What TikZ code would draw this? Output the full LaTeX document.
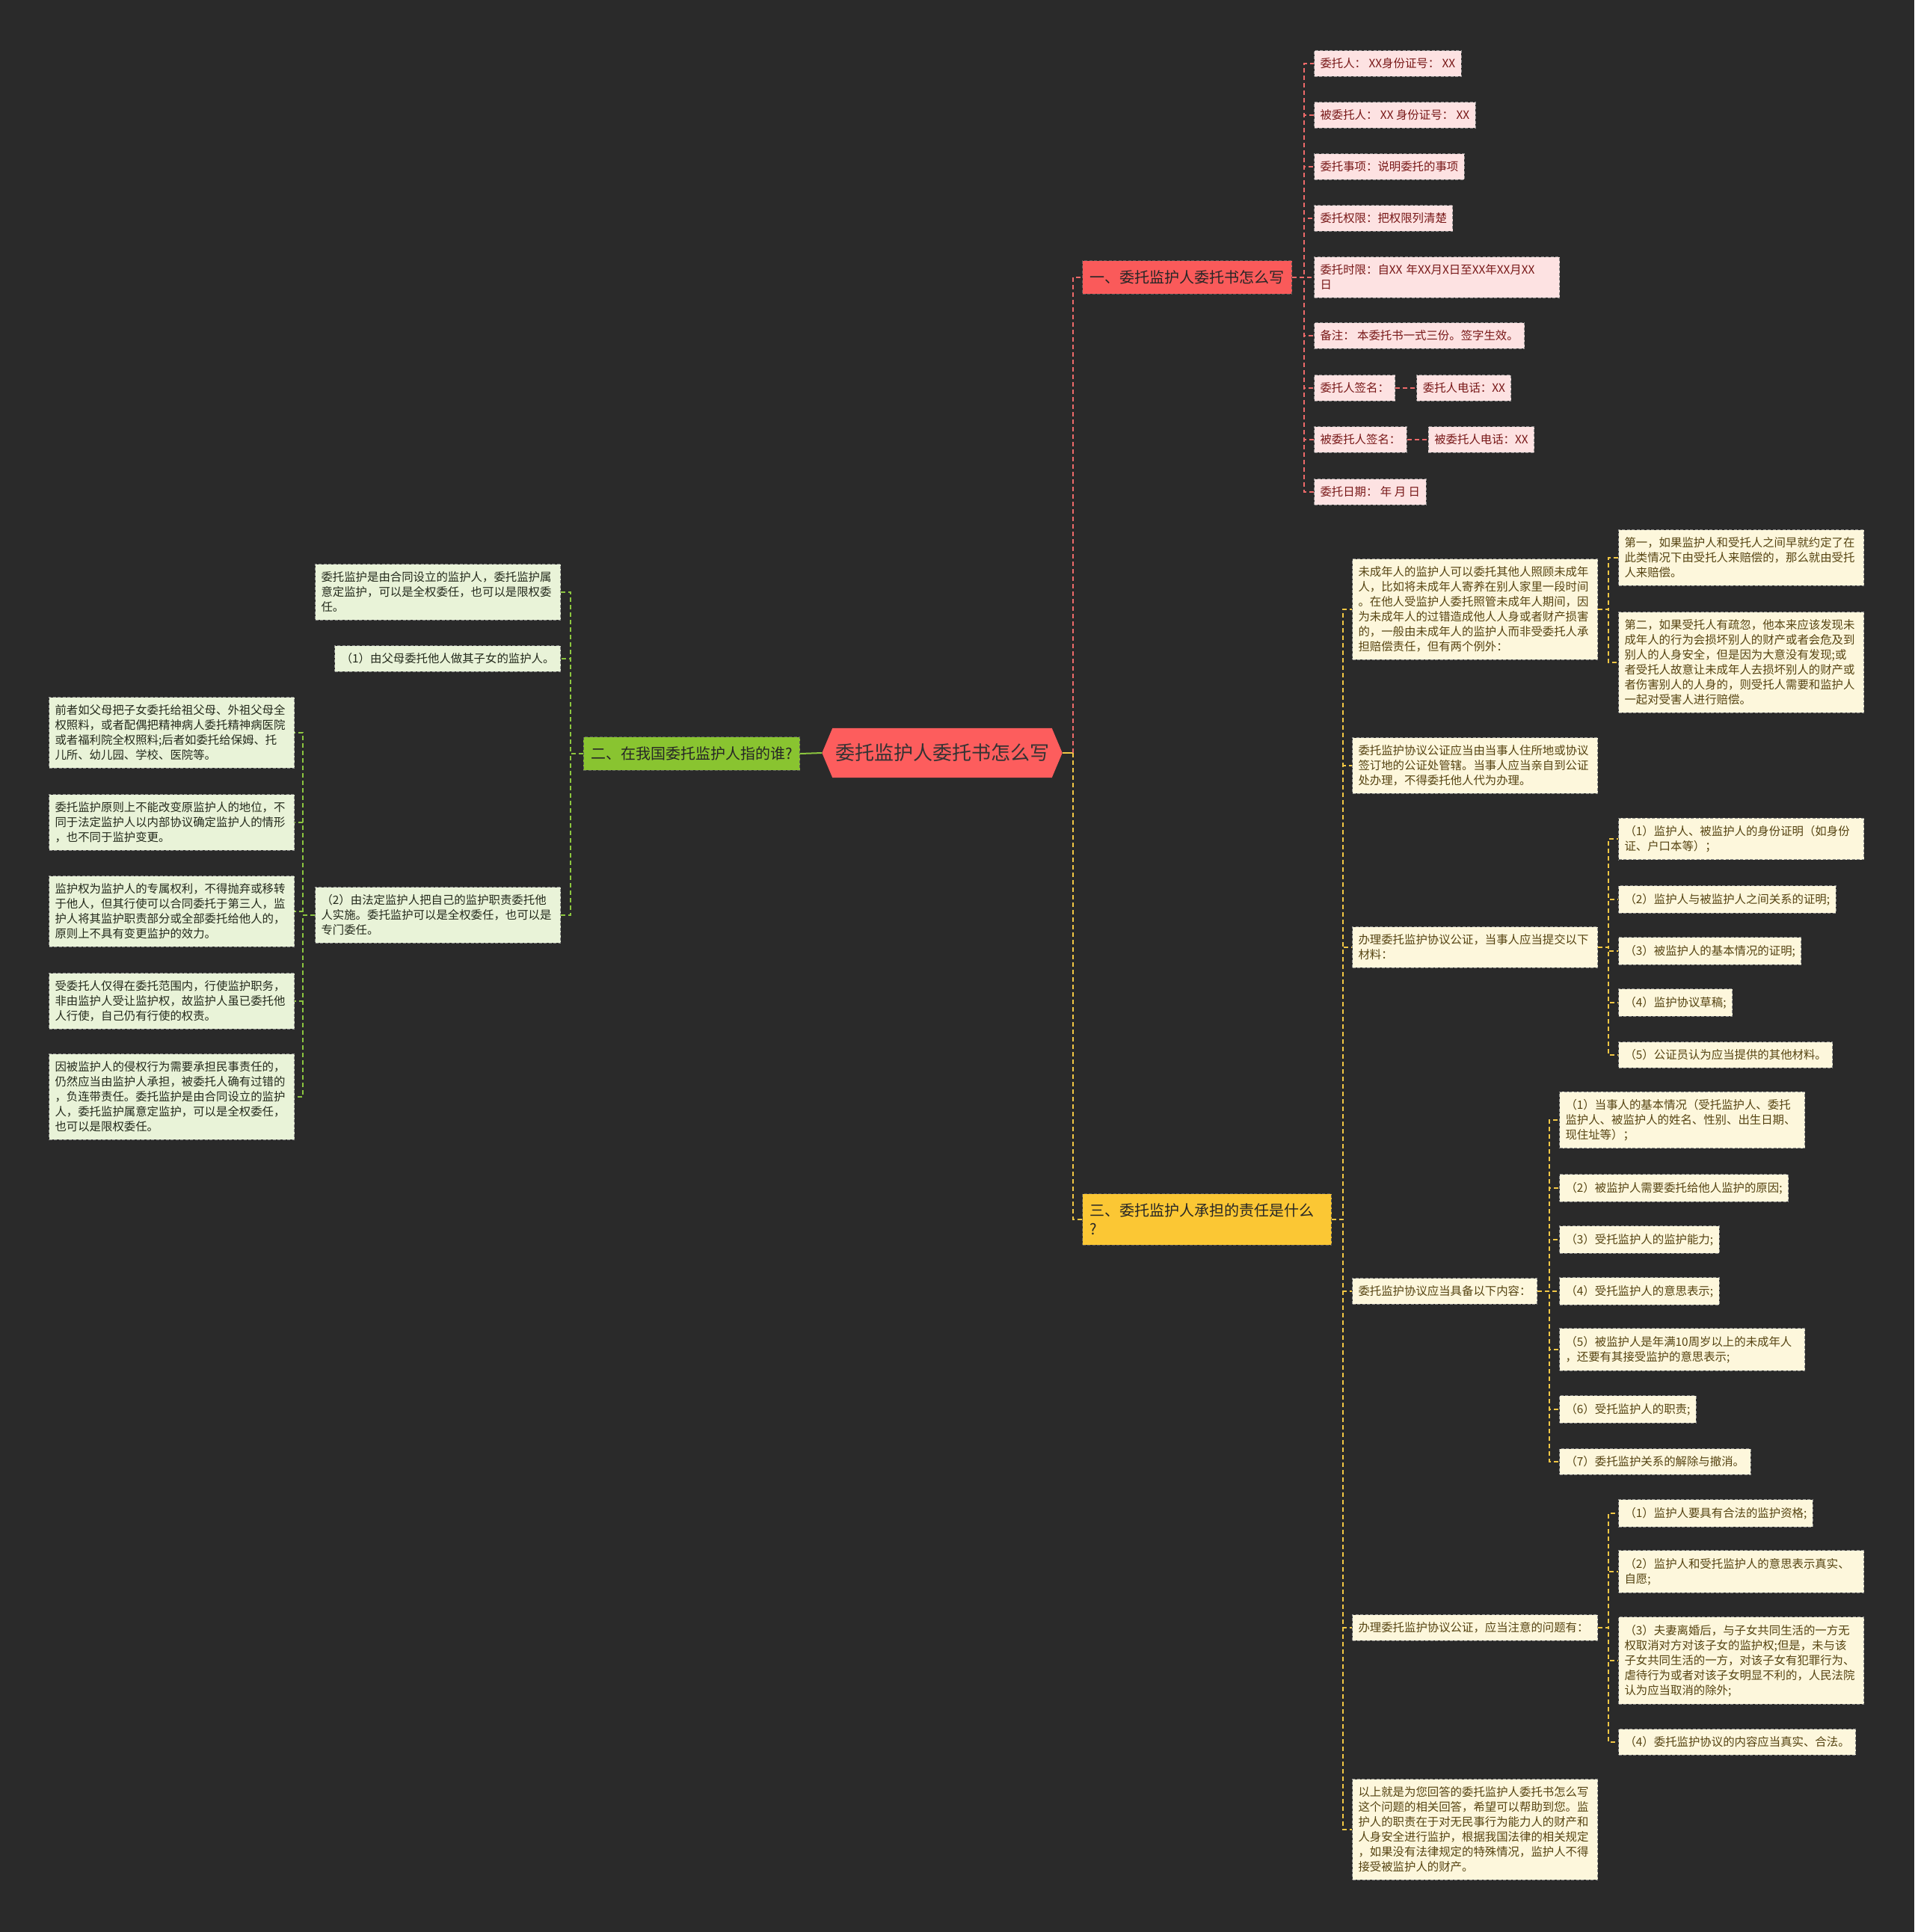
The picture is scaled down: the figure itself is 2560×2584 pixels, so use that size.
\documentclass[tikz,border=0pt]{standalone}
\usepackage{fontspec}
\setmainfont{Noto Sans CJK SC}
\usetikzlibrary{positioning, backgrounds, calc}

\definecolor{bgdark}{RGB}{42,42,42}
\definecolor{rootcol}{RGB}{253,93,93}
\definecolor{headred}{RGB}{250,90,90}
\definecolor{headgreen}{RGB}{137,196,48}
\definecolor{headyellow}{RGB}{251,199,52}
\definecolor{leafpink}{RGB}{253,226,226}
\definecolor{leafgreen}{RGB}{233,243,216}
\definecolor{leafyellow}{RGB}{253,247,220}
\definecolor{inkred}{RGB}{120,24,24}
\definecolor{inkgreen}{RGB}{36,42,28}
\definecolor{inkyellow}{RGB}{86,68,18}
\definecolor{linkred}{RGB}{238,106,106}
\definecolor{linkgreen}{RGB}{140,198,63}
\definecolor{linkyellow}{RGB}{242,199,68}

\tikzstyle{rootnode} = [minimum width=321pt, minimum height=66pt, inner sep=0pt,
    text=black!80, font=\fontsize{26}{32}\selectfont]
\tikzstyle{head} = [draw=black!65, dash pattern=on 4pt off 2.5pt, line width=1pt,
    inner xsep=10pt, inner ysep=13pt, text=black!85, font=\fontsize{20}{25}\selectfont, align=left]
\tikzstyle{leaf} = [draw=black!45, dash pattern=on 4pt off 2.5pt, line width=1pt,
    inner xsep=8pt, inner ysep=10pt, font=\fontsize{15.4}{20}\selectfont, align=left]
\tikzstyle{wide} = [text width=312pt]
\tikzstyle{pinkbox} = [leaf, fill=leafpink, text=inkred, anchor=west]
\tikzstyle{greenbox} = [leaf, fill=leafgreen, text=inkgreen, anchor=east]
\tikzstyle{yellowbox} = [leaf, fill=leafyellow, text=inkyellow, anchor=west]
\tikzstyle{redlink} = [draw=linkred, line width=2pt, dash pattern=on 6pt off 4pt]
\tikzstyle{greenlink} = [draw=linkgreen, line width=2pt, dash pattern=on 6pt off 4pt]
\tikzstyle{yellowlink} = [draw=linkyellow, line width=2pt, dash pattern=on 6pt off 4pt]

\begin{document}
\begin{tikzpicture}[x=1pt, y=-1pt]
    \begin{scope}[on background layer]
        \fill[bgdark] (0,0) rectangle (2560,2584);
    \end{scope}
    \useasboundingbox (0,0) rectangle (2560,2584);

    % Central topic
    \node [rootnode] (root) at (1260,1007) {委托监护人委托书怎么写};
    \begin{scope}[on background layer]
        \fill[rootcol] ([xshift=14pt]root.north west) -- ([xshift=-14pt]root.north east) -- (root.east)
            -- ([xshift=-14pt]root.south east) -- ([xshift=14pt]root.south west) -- (root.west) -- cycle;
    \end{scope}

    % Main branches
    \node [head, fill=headred, anchor=west] (b1) at (1447,371) {一、委托监护人委托书怎么写};
    \node [head, fill=headgreen, anchor=east] (b2) at (1070,1008) {二、在我国委托监护人指的谁?};
    \node [head, fill=headyellow, anchor=west, text width=313pt] (b3) at (1447,1631)
        {三、委托监护人承担的责任是什么\\?};

    % Branch one: the letter itself
    \node [pinkbox] (p1) at (1757,85) {委托人： XX身份证号： XX};
    \node [pinkbox] (p2) at (1757,154) {被委托人： XX 身份证号： XX};
    \node [pinkbox] (p3) at (1757,223) {委托事项：说明委托的事项};
    \node [pinkbox] (p4) at (1757,292) {委托权限：把权限列清楚};
    \node [pinkbox, wide] (p5) at (1757,371) {委托时限：自XX 年XX月X日至XX年XX月XX\\日};
    \node [pinkbox] (p6) at (1757,449) {备注： 本委托书一式三份。签字生效。};
    \node [pinkbox] (p7) at (1757,519) {委托人签名：};
    \node [pinkbox] (p8) at (1757,588) {被委托人签名：};
    \node [pinkbox] (p9) at (1757,658) {委托日期： 年 月 日};
    \node [pinkbox, right=28pt of p7] (t7) {委托人电话：XX};
    \node [pinkbox, right=28pt of p8] (t8) {被委托人电话：XX};

    % Branch two: who is the guardian
    \node [greenbox, wide] (g1) at (750,792) {委托监护是由合同设立的监护人，委托监护属\\意定监护，可以是全权委任，也可以是限权委\\任。};
    \node [greenbox] (g2) at (750,881) {（1）由父母委托他人做其子女的监护人。};
    \node [greenbox, wide] (g3) at (750,1224) {（2）由法定监护人把自己的监护职责委托他\\人实施。委托监护可以是全权委任，也可以是\\专门委任。};
    \node [greenbox, wide] (h1) at (394,980) {前者如父母把子女委托给祖父母、外祖父母全\\权照料，或者配偶把精神病人委托精神病医院\\或者福利院全权照料;后者如委托给保姆、托\\儿所、幼儿园、学校、医院等。};
    \node [greenbox, wide] (h2) at (394,1100) {委托监护原则上不能改变原监护人的地位，不\\同于法定监护人以内部协议确定监护人的情形\\，也不同于监护变更。};
    \node [greenbox, wide] (h3) at (394,1219) {监护权为监护人的专属权利，不得抛弃或移转\\于他人，但其行使可以合同委托于第三人，监\\护人将其监护职责部分或全部委托给他人的，\\原则上不具有变更监护的效力。};
    \node [greenbox, wide] (h4) at (394,1339) {受委托人仅得在委托范围内，行使监护职务，\\非由监护人受让监护权，故监护人虽已委托他\\人行使，自己仍有行使的权责。};
    \node [greenbox, wide] (h5) at (394,1467) {因被监护人的侵权行为需要承担民事责任的，\\仍然应当由监护人承担，被委托人确有过错的\\，负连带责任。委托监护是由合同设立的监护\\人，委托监护属意定监护，可以是全权委任，\\也可以是限权委任。};

    % Branch three: responsibilities
    \node [yellowbox, wide] (ya) at (1808,815) {未成年人的监护人可以委托其他人照顾未成年\\人，比如将未成年人寄养在别人家里一段时间\\。在他人受监护人委托照管未成年人期间，因\\为未成年人的过错造成他人人身或者财产损害\\的，一般由未成年人的监护人而非受委托人承\\担赔偿责任，但有两个例外：};
    \node [yellowbox, wide] (yb) at (1808,1024) {委托监护协议公证应当由当事人住所地或协议\\签订地的公证处管辖。当事人应当亲自到公证\\处办理，不得委托他人代为办理。};
    \node [yellowbox, wide] (yc) at (1808,1267) {办理委托监护协议公证，当事人应当提交以下\\材料：};
    \node [yellowbox] (yd) at (1808,1727) {委托监护协议应当具备以下内容：};
    \node [yellowbox, wide] (ye) at (1808,2177) {办理委托监护协议公证，应当注意的问题有：};
    \node [yellowbox, wide] (yf) at (1808,2447) {以上就是为您回答的委托监护人委托书怎么写\\这个问题的相关回答，希望可以帮助到您。监\\护人的职责在于对无民事行为能力人的财产和\\人身安全进行监护，根据我国法律的相关规定\\，如果没有法律规定的特殊情况，监护人不得\\接受被监护人的财产。};

    \node [yellowbox, wide] (ya1) at (2164,746) {第一，如果监护人和受托人之间早就约定了在\\此类情况下由受托人来赔偿的，那么就由受托\\人来赔偿。};
    \node [yellowbox, wide] (ya2) at (2164,886) {第二，如果受托人有疏忽，他本来应该发现未\\成年人的行为会损坏别人的财产或者会危及到\\别人的人身安全，但是因为大意没有发现;或\\者受托人故意让未成年人去损坏别人的财产或\\者伤害别人的人身的，则受托人需要和监护人\\一起对受害人进行赔偿。};

    \node [yellowbox, wide] (yc1) at (2164,1122) {（1）监护人、被监护人的身份证明（如身份\\证、户口本等）；};
    \node [yellowbox] (yc2) at (2164,1203) {（2）监护人与被监护人之间关系的证明;};
    \node [yellowbox] (yc3) at (2164,1272) {（3）被监护人的基本情况的证明;};
    \node [yellowbox] (yc4) at (2164,1341) {（4）监护协议草稿;};
    \node [yellowbox] (yc5) at (2164,1411) {（5）公证员认为应当提供的其他材料。};

    \node [yellowbox, wide] (yd1) at (2085,1498) {（1）当事人的基本情况（受托监护人、委托\\监护人、被监护人的姓名、性别、出生日期、\\现住址等）；};
    \node [yellowbox] (yd2) at (2085,1589) {（2）被监护人需要委托给他人监护的原因;};
    \node [yellowbox] (yd3) at (2085,1658) {（3）受托监护人的监护能力;};
    \node [yellowbox] (yd4) at (2085,1727) {（4）受托监护人的意思表示;};
    \node [yellowbox, wide] (yd5) at (2085,1805) {（5）被监护人是年满10周岁以上的未成年人\\，还要有其接受监护的意思表示;};
    \node [yellowbox] (yd6) at (2085,1885) {（6）受托监护人的职责;};
    \node [yellowbox] (yd7) at (2085,1955) {（7）委托监护关系的解除与撤消。};

    \node [yellowbox] (ye1) at (2164,2024) {（1）监护人要具有合法的监护资格;};
    \node [yellowbox, wide] (ye2) at (2164,2102) {（2）监护人和受托监护人的意思表示真实、\\自愿;};
    \node [yellowbox, wide] (ye3) at (2164,2221) {（3）夫妻离婚后，与子女共同生活的一方无\\权取消对方对该子女的监护权;但是，未与该\\子女共同生活的一方，对该子女有犯罪行为、\\虐待行为或者对该子女明显不利的，人民法院\\认为应当取消的除外;};
    \node [yellowbox] (ye4) at (2164,2330) {（4）委托监护协议的内容应当真实、合法。};

    % Links from the centre
    \draw [draw=linkgreen, line width=2pt] (root.west) -- (b2.east);
    \draw [draw=linkyellow, line width=2pt] (root.east) -- ++(14pt,0) coordinate (rt);
    \draw [redlink] (rt) |- (b1.west);
    \draw [yellowlink] (rt) |- (b3.west);

    % Links inside the branches
    \foreach \c in {p1,p2,p3,p4,p5,p6,p7,p8,p9}
        \draw [redlink] (b1.east) -| ([xshift=-13pt]\c.west) -- (\c.west);
    \draw [redlink] (p7.east) -- (t7.west);
    \draw [redlink] (p8.east) -- (t8.west);

    \foreach \c in {g1,g2,g3}
        \draw [greenlink] (b2.west) -| ([xshift=13pt]\c.east) -- (\c.east);
    \foreach \c in {h1,h2,h3,h4,h5}
        \draw [greenlink] (g3.west) -| ([xshift=11pt]\c.east) -- (\c.east);

    \foreach \c in {ya,yb,yc,yd,ye,yf}
        \draw [yellowlink] (b3.east) -| ([xshift=-12pt]\c.west) -- (\c.west);
    \foreach \c in {ya1,ya2}
        \draw [yellowlink] (ya.east) -| ([xshift=-13pt]\c.west) -- (\c.west);
    \foreach \c in {yc1,yc2,yc3,yc4,yc5}
        \draw [yellowlink] (yc.east) -| ([xshift=-13pt]\c.west) -- (\c.west);
    \foreach \c in {yd1,yd2,yd3,yd4,yd5,yd6,yd7}
        \draw [yellowlink] (yd.east) -| ([xshift=-13pt]\c.west) -- (\c.west);
    \foreach \c in {ye1,ye2,ye3,ye4}
        \draw [yellowlink] (ye.east) -| ([xshift=-13pt]\c.west) -- (\c.west);
\end{tikzpicture}
\end{document}
